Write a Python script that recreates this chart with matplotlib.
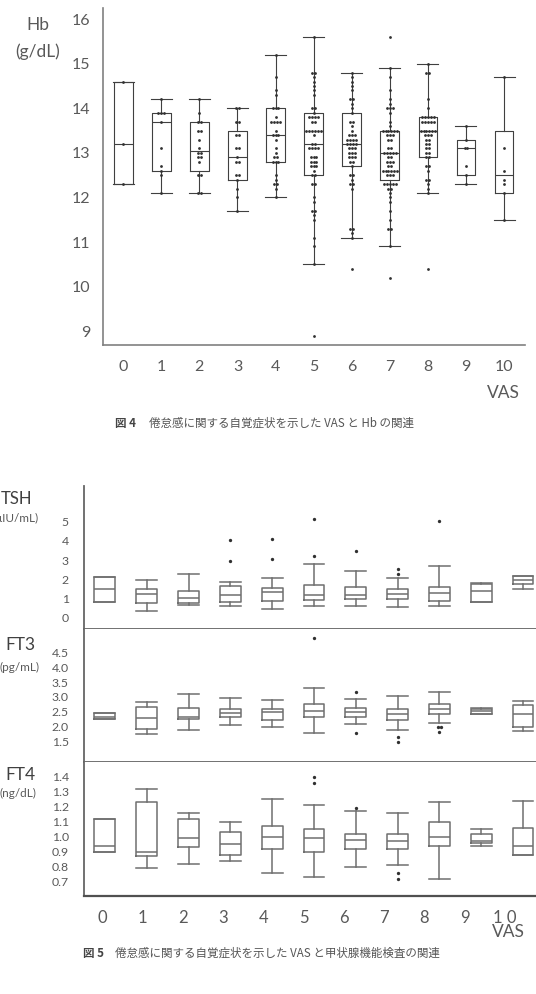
import numpy as np
import matplotlib
matplotlib.use("Agg")
import matplotlib.pyplot as plt

W, H = 536, 994

# ---- Fig 4: Hb vs VAS ----
vas = list(range(11))
hb_q1 = [12.3, 12.6, 12.6, 12.4, 12.8, 12.5, 12.7, 12.4, 12.9, 12.5, 12.1]
hb_med = [13.2, 13.7, 13.05, 12.9, 13.4, 13.2, 13.2, 13.0, 13.5, 13.1, 12.5]
hb_q3 = [14.6, 13.9, 13.7, 13.5, 14.0, 13.9, 13.9, 13.5, 13.8, 13.3, 13.5]
hb_lo = [12.3, 12.1, 12.1, 11.7, 12.0, 10.5, 11.1, 10.9, 12.1, 12.3, 11.5]
hb_hi = [14.6, 14.2, 14.2, 14.0, 15.2, 15.6, 14.8, 14.9, 15.0, 13.6, 14.7]
hb_out = [[], [], [], [], [], [8.9], [10.4], [15.6, 10.2], [10.4], [], []]
hb_points = [
    [14.6, 13.2, 12.3],
    [14.2, 13.9, 13.9, 13.9, 13.7, 13.1, 12.7, 12.6, 12.5, 12.1],
    [14.2, 13.9, 13.7, 13.7, 13.5, 13.5, 13.3, 13.1, 13.0, 13.0, 12.9, 12.9,
     12.8, 12.5, 12.5, 12.1, 12.1],
    [14.0, 14.0, 13.7, 13.7, 13.4, 13.4, 13.1, 13.1, 12.9, 12.8, 12.8, 12.5,
     12.5, 12.4, 12.2, 12.0, 11.7],
    [15.2, 14.7, 14.4, 14.3, 14.0, 14.0, 14.0, 13.8, 13.7, 13.7, 13.7, 13.7,
     13.5, 13.4, 13.4, 13.4, 13.3, 13.1, 13.0, 12.9, 12.9, 12.8, 12.8, 12.8,
     12.5, 12.4, 12.3, 12.3, 12.2, 12.0],
    [15.6, 14.8, 14.8, 14.7, 14.6, 14.5, 14.4, 14.3, 14.0, 14.0, 13.9, 13.8,
     13.8, 13.8, 13.8, 13.7, 13.7, 13.5, 13.5, 13.5, 13.5, 13.5, 13.5, 13.4,
     13.2, 13.2, 13.1, 13.1, 13.1, 13.1, 12.9, 12.9, 12.9, 12.8, 12.8, 12.8,
     12.7, 12.7, 12.7, 12.6, 12.5, 12.5, 12.3, 12.3, 12.0, 11.9, 11.7, 11.7,
     11.6, 11.5, 11.1, 10.9, 10.5],
    [14.8, 14.7, 14.6, 14.5, 14.4, 14.2, 14.2, 14.1, 14.0, 13.9, 13.7, 13.7,
     13.6, 13.5, 13.4, 13.4, 13.4, 13.3, 13.3, 13.3, 13.3, 13.2, 13.2, 13.2,
     13.2, 13.1, 13.1, 13.1, 13.0, 13.0, 13.0, 12.9, 12.9, 12.9, 12.8, 12.8,
     12.7, 12.5, 12.5, 12.4, 12.3, 12.3, 12.2, 11.3, 11.3, 11.2, 11.1],
    [14.9, 14.7, 14.4, 14.2, 14.1, 14.0, 14.0, 14.0, 13.9, 13.7, 13.6, 13.5,
     13.5, 13.5, 13.5, 13.5, 13.5, 13.4, 13.4, 13.4, 13.3, 13.3, 13.1, 13.1,
     13.0, 13.0, 13.0, 13.0, 13.0, 12.9, 12.9, 12.8, 12.8, 12.8, 12.7, 12.7,
     12.6, 12.6, 12.6, 12.6, 12.6, 12.6, 12.5, 12.5, 12.5, 12.3, 12.3, 12.3,
     12.3, 12.3, 12.2, 12.2, 12.1, 12.0, 11.9, 11.7, 11.5, 11.3, 11.3, 10.9],
    [15.0, 14.8, 14.8, 14.2, 14.0, 13.8, 13.8, 13.8, 13.8, 13.8, 13.7, 13.7,
     13.7, 13.7, 13.7, 13.5, 13.5, 13.5, 13.5, 13.5, 13.5, 13.4, 13.4, 13.4,
     13.3, 13.3, 13.2, 13.2, 13.1, 13.1, 13.0, 13.0, 12.9, 12.9, 12.7, 12.7,
     12.6, 12.4, 12.4, 12.3, 12.2, 12.1],
    [13.6, 13.3, 13.1, 13.1, 12.7, 12.5, 12.3],
    [14.7, 13.1, 12.6, 12.4, 12.3, 12.1, 11.5],
]
hb_yticks = [9, 10, 11, 12, 13, 14, 15, 16]

# ---- Fig 5: thyroid tests vs VAS ----
tsh_q1 = [0.85, 0.76, 0.79, 0.85, 0.88, 0.92, 0.97, 1.00, 0.88, 0.83, 1.75]
tsh_med = [1.50, 1.23, 1.05, 1.18, 1.33, 1.19, 1.18, 1.23, 1.31, 1.40, 1.95]
tsh_q3 = [2.11, 1.49, 1.40, 1.66, 1.57, 1.69, 1.59, 1.49, 1.62, 1.76, 2.16]
tsh_lo = [0.85, 0.36, 0.67, 0.62, 0.45, 0.62, 0.62, 0.59, 0.62, 0.82, 1.52]
tsh_hi = [2.11, 1.97, 2.26, 1.88, 2.06, 2.81, 2.45, 2.09, 2.71, 1.80, 2.16]
tsh_out = [[], [], [], [2.97, 4.04], [3.04, 4.08], [3.23, 5.11], [3.49],
           [2.30, 2.52], [5.03], [], []]
tsh_yticks = [0, 1, 2, 3, 4, 5]

ft3_q1 = [2.28, 1.94, 2.28, 2.34, 2.24, 2.32, 2.32, 2.24, 2.44, 2.44, 1.99]
ft3_med = [2.33, 2.29, 2.34, 2.46, 2.49, 2.54, 2.49, 2.42, 2.61, 2.52, 2.43]
ft3_q3 = [2.47, 2.66, 2.64, 2.60, 2.60, 2.76, 2.64, 2.59, 2.76, 2.60, 2.74]
ft3_lo = [2.28, 1.77, 1.90, 2.07, 1.99, 1.81, 2.10, 1.91, 2.14, 2.42, 1.87]
ft3_hi = [2.47, 2.83, 3.10, 2.98, 2.90, 3.30, 2.94, 3.02, 3.16, 2.62, 2.88]
ft3_out = [[], [], [], [], [], [4.96], [3.16, 1.80], [1.68, 1.51],
           [1.99, 1.99, 1.82], [], []]
ft3_yticks = [1.5, 2.0, 2.5, 3.0, 3.5, 4.0, 4.5]

ft4_q1 = [0.90, 0.87, 0.93, 0.88, 0.92, 0.90, 0.92, 0.92, 0.94, 0.96, 0.88]
ft4_med = [0.94, 0.90, 0.99, 0.95, 1.00, 0.99, 0.98, 0.97, 1.00, 0.97, 0.94]
ft4_q3 = [1.12, 1.23, 1.12, 1.03, 1.07, 1.05, 1.02, 1.02, 1.10, 1.02, 1.06]
ft4_lo = [0.90, 0.79, 0.82, 0.84, 0.76, 0.73, 0.80, 0.81, 0.72, 0.94, 0.88]
ft4_hi = [1.12, 1.32, 1.16, 1.10, 1.25, 1.21, 1.17, 1.16, 1.23, 1.05, 1.24]
ft4_out = [[], [], [], [], [], [1.36, 1.40], [1.19], [0.76, 0.72], [], [], []]
ft4_yticks = [0.7, 0.8, 0.9, 1.0, 1.1, 1.2, 1.3, 1.4]

vas_labels = ["0", "1", "2", "3", "4", "5", "6", "7", "8", "9", "1 0"]

TXT = "#595959"
plt.rcParams["font.family"] = ["Lato", "DejaVu Sans"]
CJK = ["Noto Sans CJK JP", "DejaVu Sans"]


def rect(l, t, r, b):
    return [l / W, 1 - b / H, (r - l) / W, (b - t) / H]


def ftext(x, y, s, **kw):
    kw.setdefault("va", "center")
    kw.setdefault("ha", "center")
    fig.text(x / W, 1 - y / H, s, **kw)


def spread(vals, step):
    counts = {}
    for v in vals:
        counts[v] = counts.get(v, 0) + 1
    xs, ys = [], []
    for v, k in counts.items():
        for j in range(k):
            xs.append((j - (k - 1) / 2) * step)
            ys.append(v)
    return np.array(xs), np.array(ys)


def make_stats(q1, med, q3, lo, hi):
    return [dict(q1=a, med=b, q3=c, whislo=d, whishi=e, fliers=[])
            for a, b, c, d, e in zip(q1, med, q3, lo, hi)]


fig = plt.figure(figsize=(W / 100, H / 100), dpi=100)

# ---------- top chart ----------
ax = fig.add_axes(rect(103, 8, 525, 345))
lc = "#404040"
ax.bxp(make_stats(hb_q1, hb_med, hb_q3, hb_lo, hb_hi), positions=vas,
       widths=0.49, capwidths=0.55, showfliers=False, manage_ticks=False,
       boxprops=dict(color=lc, lw=0.8), whiskerprops=dict(color=lc, lw=0.8),
       capprops=dict(color=lc, lw=0.8), medianprops=dict(color=lc, lw=0.8))
for i in vas:
    dx, dy = spread(hb_points[i] + hb_out[i], 0.075)
    ax.plot(i + dx, dy, "o", ms=2.0, color="#303030", mec="none", zorder=3)
ax.set_xlim(-0.53, 10.55)
ax.set_ylim(8.69, 16.25)
ax.set_yticks(hb_yticks)
ax.set_xticks(vas)
ax.set_xticklabels([str(v) for v in vas])
ax.tick_params(length=0, labelsize=11.5, colors=TXT)
ax.tick_params(axis="y", pad=9)
ax.tick_params(axis="x", pad=11)
for s in ["top", "right"]:
    ax.spines[s].set_visible(False)
for s in ["left", "bottom"]:
    ax.spines[s].set_color("#808080")
    ax.spines[s].set_linewidth(1.2)

ftext(38, 25, "Hb", fontsize=12.5, color=TXT)
ftext(38, 52, "(g/dL)", fontsize=12.5, color=TXT)
ftext(503, 393, "VAS", fontsize=12.5, color=TXT)
ftext(115, 423, "図 4", ha="left", fontsize=8.3, color="#444444",
      family=CJK, fontweight="bold")
ftext(149, 423, "倦怠感に関する自覚症状を示した VAS と Hb の関連", ha="left",
      fontsize=8.3, color="#555555", family=CJK)

# ---------- bottom chart ----------
panels = [
    (rect(84, 486, 536, 629), (tsh_q1, tsh_med, tsh_q3, tsh_lo, tsh_hi),
     tsh_out, tsh_yticks, (-0.57, 6.84), "{:.0f}"),
    (rect(84, 629, 536, 762), (ft3_q1, ft3_med, ft3_q3, ft3_lo, ft3_hi),
     ft3_out, ft3_yticks, (0.83, 5.27), "{:.1f}"),
    (rect(84, 762, 536, 896), (ft4_q1, ft4_med, ft4_q3, ft4_lo, ft4_hi),
     ft4_out, ft4_yticks, (0.605, 1.498), "{:.1f}"),
]
bc = "#6f6f6f"
axes = []
for r, st, outs, yt, yl, fmt in panels:
    a = fig.add_axes(r)
    a.bxp(make_stats(*st), positions=vas, widths=0.5, capwidths=0.5,
          showfliers=False, manage_ticks=False,
          boxprops=dict(color=bc, lw=1.1), whiskerprops=dict(color=bc, lw=1.1),
          capprops=dict(color=bc, lw=1.1), medianprops=dict(color=bc, lw=1.1))
    for i in vas:
        if outs[i]:
            dx, dy = spread(outs[i], 0.09)
            a.plot(i + dx, dy, "o", ms=2.4, color="#303030", mec="none")
    a.set_xlim(-0.5, 10.31)
    a.set_ylim(*yl)
    a.set_yticks(yt)
    a.set_yticklabels([fmt.format(v) for v in yt])
    a.set_xticks([])
    a.tick_params(length=0, labelsize=8.8, colors=TXT, pad=11)
    for s in ["top", "right"]:
        a.spines[s].set_visible(False)
    for s in ["left", "bottom"]:
        a.spines[s].set_color("#666666")
        a.spines[s].set_linewidth(1.3)
    axes.append(a)

ax5 = axes[-1]
ax5.spines["bottom"].set_color("#505050")
ax5.spines["bottom"].set_linewidth(1.6)
label_pos = [-0.07 + 0.964 * i for i in vas]
ax5.set_xticks(label_pos)
ax5.set_xticklabels(vas_labels)
ax5.tick_params(axis="x", labelsize=12, pad=10, colors=TXT)

ftext(32, 499, "TSH", ha="right", fontsize=12, color="#404040")
ftext(39, 518, "(μIU/mL)", ha="right", fontsize=8.5, color=TXT)
ftext(20, 645, "FT3", fontsize=12.5, color="#404040")
ftext(19, 667, "(pg/mL)", fontsize=8.5, color=TXT)
ftext(20, 775, "FT4", fontsize=12.5, color="#404040")
ftext(18, 793, "(ng/dL)", fontsize=8.5, color=TXT)
ftext(508, 932, "VAS", fontsize=12.5, color=TXT)
ftext(83, 953, "図 5", ha="left", fontsize=8.3, color="#444444",
      family=CJK, fontweight="bold")
ftext(115, 953, "倦怠感に関する自覚症状を示した VAS と甲状腺機能検査の関連",
      ha="left", fontsize=8.3, color="#555555", family=CJK)

fig.savefig("out.png", dpi=100)
